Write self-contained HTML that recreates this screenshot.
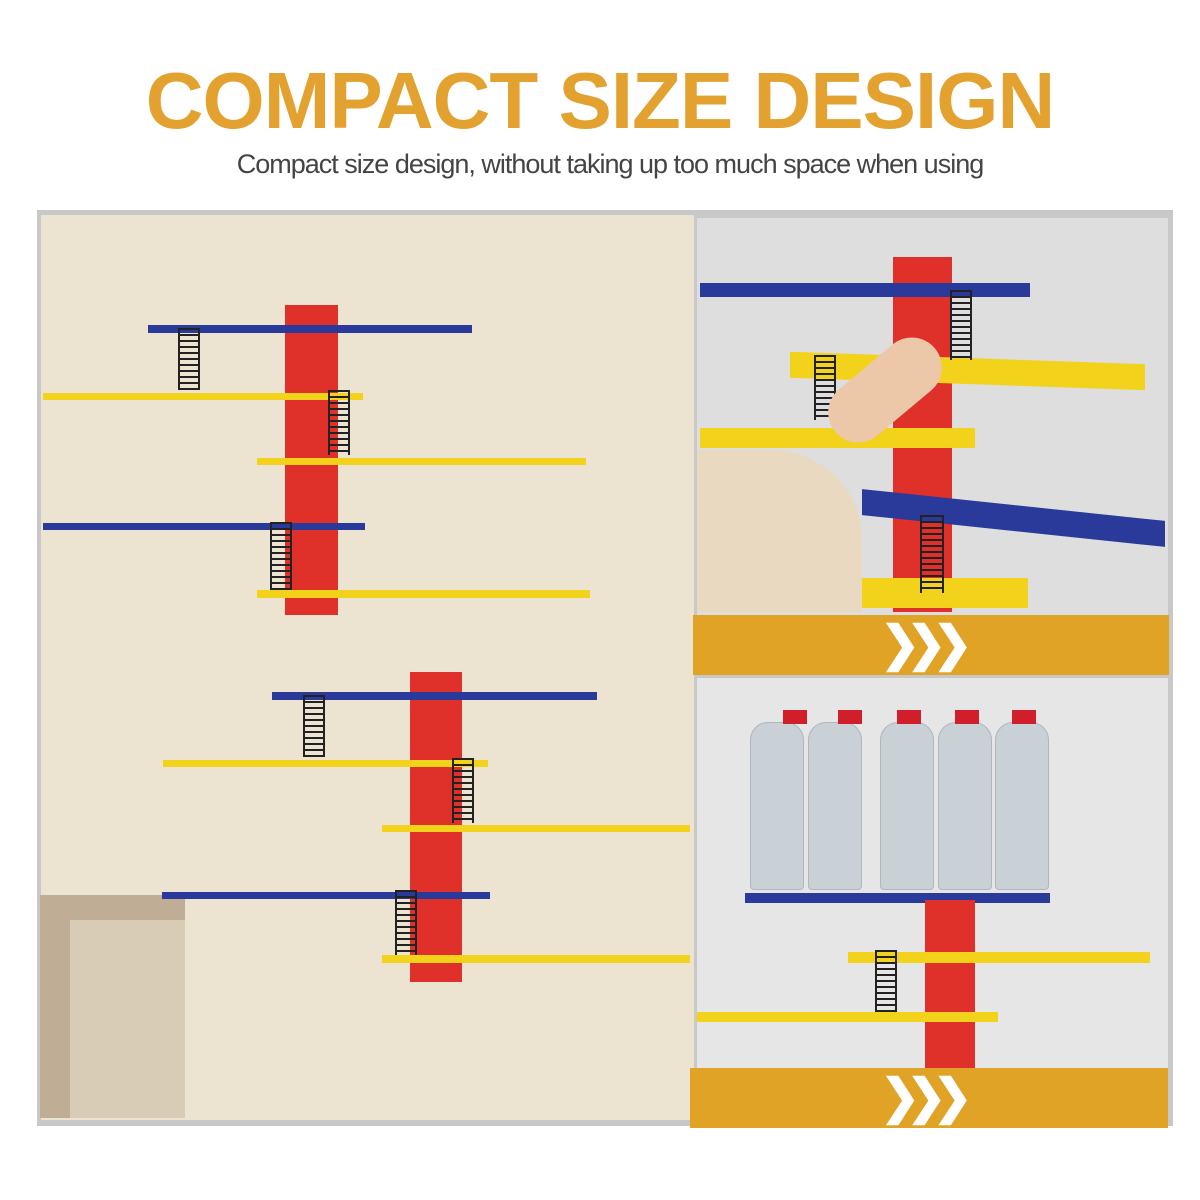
<!DOCTYPE html>
<html><head><style>
body{margin:0;width:1200px;height:1200px;background:#fff;position:relative;overflow:hidden;font-family:"Liberation Sans",sans-serif}
div{position:absolute;box-sizing:border-box}
.r{background:#e0302a}.b{background:#2a3a9a}.y{background:#f2d21a}
.lad{border-left:2px solid #222;border-right:2px solid #222;background:repeating-linear-gradient(#222 0 2px,transparent 2px 6px)}
.chev{color:#fff;font-weight:bold;font-size:48px;letter-spacing:-14px;line-height:60px}
.bt{background:#c9d0d6;border-radius:18px 18px 4px 4px;width:54px;height:168px;top:722px;border:1px solid #aeb6be}
.cap{background:#d01f2a;width:24px;height:14px;top:710px}
</style></head><body>
<div style="left:0;top:55px;width:1200px;text-align:center;font-size:80px;font-weight:bold;color:#e3a12f;letter-spacing:-1px">COMPACT SIZE DESIGN</div>
<div style="left:0;top:149px;width:1220px;text-align:center;font-size:27px;color:#444;letter-spacing:-1px">Compact size design, without taking up too much space when using</div>
<div style="left:37px;top:210px;width:1136px;height:916px;background:#c8c8c8"></div>
<div style="left:41px;top:215px;width:653px;height:905px;background:#ece3d0"></div>
<div style="left:40px;top:895px;width:145px;height:223px;background:#bfae95"></div>
<div style="left:70px;top:920px;width:115px;height:198px;background:#d8ccb6"></div>
<!-- left set 1 -->
<div class="r" style="left:285px;top:305px;width:53px;height:310px"></div>
<div class="b" style="left:148px;top:325px;width:324px;height:8px"></div>
<div class="y" style="left:43px;top:393px;width:320px;height:7px"></div>
<div class="y" style="left:257px;top:458px;width:329px;height:7px"></div>
<div class="b" style="left:43px;top:523px;width:322px;height:7px"></div>
<div class="y" style="left:257px;top:590px;width:333px;height:8px"></div>
<div class="lad" style="left:178px;top:328px;width:22px;height:62px"></div>
<div class="lad" style="left:328px;top:390px;width:22px;height:65px"></div>
<div class="lad" style="left:270px;top:522px;width:22px;height:68px"></div>
<!-- left set 2 -->
<div class="r" style="left:410px;top:672px;width:52px;height:310px"></div>
<div class="b" style="left:272px;top:692px;width:325px;height:8px"></div>
<div class="y" style="left:163px;top:760px;width:325px;height:7px"></div>
<div class="y" style="left:382px;top:825px;width:308px;height:7px"></div>
<div class="b" style="left:162px;top:892px;width:328px;height:7px"></div>
<div class="y" style="left:382px;top:955px;width:308px;height:8px"></div>
<div class="lad" style="left:303px;top:695px;width:22px;height:62px"></div>
<div class="lad" style="left:452px;top:758px;width:22px;height:65px"></div>
<div class="lad" style="left:395px;top:890px;width:22px;height:65px"></div>
<!-- right top -->
<div style="left:697px;top:218px;width:471px;height:397px;background:#dedede"></div>
<div class="r" style="left:893px;top:257px;width:59px;height:355px"></div>
<div class="b" style="left:700px;top:283px;width:330px;height:14px"></div>
<div class="y" style="left:790px;top:358px;width:355px;height:26px;transform:skewY(2deg)"></div>
<div class="y" style="left:700px;top:428px;width:275px;height:20px"></div>
<div class="b" style="left:862px;top:505px;width:303px;height:26px;transform:skewY(6deg)"></div>
<div class="y" style="left:815px;top:578px;width:213px;height:30px"></div>
<div class="lad" style="left:950px;top:290px;width:22px;height:70px"></div>
<div class="lad" style="left:814px;top:355px;width:22px;height:65px"></div>
<div class="lad" style="left:920px;top:515px;width:24px;height:78px"></div>
<div style="left:697px;top:450px;width:165px;height:162px;background:#e8d9c0;border-radius:0 90px 0 0"></div>
<div style="left:820px;top:360px;width:130px;height:60px;background:#ecc7a8;border-radius:30px;transform:rotate(-40deg)"></div>
<div style="left:693px;top:615px;width:476px;height:60px;background:#e0a326"></div>
<div class="chev" style="left:880px;top:615px">❯❯❯</div>
<!-- right bottom -->
<div style="left:697px;top:678px;width:471px;height:390px;background:#e6e6e6"></div>
<div class="bt" style="left:750px"></div><div class="bt" style="left:808px"></div><div class="bt" style="left:880px"></div><div class="bt" style="left:938px"></div><div class="bt" style="left:995px"></div>
<div class="cap" style="left:783px"></div><div class="cap" style="left:838px"></div><div class="cap" style="left:897px"></div><div class="cap" style="left:955px"></div><div class="cap" style="left:1012px"></div>
<div class="b" style="left:745px;top:893px;width:305px;height:10px"></div>
<div class="r" style="left:925px;top:900px;width:50px;height:168px"></div>
<div class="y" style="left:848px;top:952px;width:302px;height:11px"></div>
<div class="y" style="left:697px;top:1012px;width:301px;height:10px"></div>
<div class="lad" style="left:875px;top:950px;width:22px;height:62px"></div>
<div style="left:690px;top:1068px;width:478px;height:60px;background:#e0a326"></div>
<div class="chev" style="left:880px;top:1068px">❯❯❯</div>
</body></html>
